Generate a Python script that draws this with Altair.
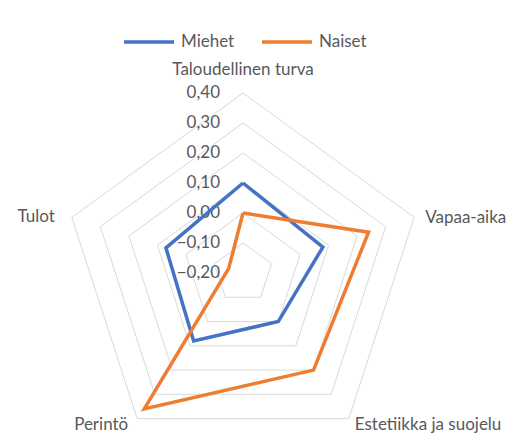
import altair as alt
import pandas as pd

categories = ["Taloudellinen turva", "Vapaa-aika", "Estetiikka ja suojelu", "Perintö", "Tulot"]
miehet = [0.10, 0.08, 0.00, 0.08, 0.07]
naiset = [0.00, 0.24, 0.20, 0.36, -0.15]
series = ["Miehet", "Naiset"]
colors = ["#4472C4", "#ED7D31"]
ticks = [-0.20, -0.10, 0.00, 0.10, 0.20, 0.30, 0.40]

rmin = ticks[0]
n = len(categories)
FONT = "Lato"
TXT = "#595959"
FS = 17

rows = []
for s, vals in zip(series, [miehet, naiset]):
    for i in range(n + 1):
        rows.append({"series": s, "idx": i, "cat": categories[i % n], "value": vals[i % n]})
df_series = pd.DataFrame(rows)

df_grid = pd.DataFrame([{"value": t, "idx": i} for t in ticks[1:] for i in range(n + 1)])
df_ticks = pd.DataFrame([{"value": t, "idx": 0} for t in ticks])
df_cats = pd.DataFrame([{"cat": c, "idx": i, "value": ticks[-1]} for i, c in enumerate(categories)])


def polar(ch):
    return ch.transform_calculate(
        ang=f"datum.idx * 2 * PI / {n}"
    ).transform_calculate(
        rr=f"datum.value - ({rmin})"
    ).transform_calculate(
        px="datum.rr * sin(datum.ang)",
        py="datum.rr * cos(datum.ang)",
    )


W, H = 511, 427
xs = alt.Scale(domain=[-235 / 300, (W - 235) / 300], nice=False, zero=False)
ys = alt.Scale(domain=[(265 - H) / 300, 265 / 300], nice=False, zero=False)
X = alt.X("px:Q", scale=xs, axis=None)
Y = alt.Y("py:Q", scale=ys, axis=None)

grid = polar(alt.Chart(df_grid)).mark_line(color="#D9D9D9", strokeWidth=1).encode(
    x=X, y=Y, detail="value:N", order="idx:Q"
)

tick_labels = polar(alt.Chart(df_ticks)).transform_calculate(
    lab="replace(format(datum.value, '.2f'), '.', ',')"
).mark_text(align="right", baseline="middle", dx=-23, font=FONT, fontSize=FS, color=TXT).encode(
    x=X, y=Y, text="lab:N"
)

lines = polar(alt.Chart(df_series)).mark_line(strokeWidth=3.5, strokeJoin="miter").encode(
    x=X, y=Y, order="idx:Q",
    color=alt.Color(
        "series:N",
        scale=alt.Scale(domain=series, range=colors),
        legend=alt.Legend(
            title=None, orient="none", legendX=114, legendY=7, direction="horizontal",
            symbolType="stroke", symbolSize=2500, symbolStrokeWidth=3.5,
            labelFont=FONT, labelFontSize=FS, labelColor=TXT, labelOffset=5,
            columnPadding=20, padding=0,
        ),
    ),
)

label_style = [
    ("center", 0, -23),
    ("left", 11, 1),
    ("left", 6, 6),
    ("right", -9, 6),
    ("right", -17, 0),
]
cat_layers = []
for i, (al, dx, dy) in enumerate(label_style):
    cat_layers.append(
        polar(alt.Chart(df_cats)).transform_filter(f"datum.idx == {i}").mark_text(
            align=al, baseline="middle", dx=dx, dy=dy, font=FONT, fontSize=FS, color=TXT
        ).encode(x=X, y=Y, text="cat:N")
    )

chart = alt.layer(grid, tick_labels, lines, *cat_layers).properties(
    width=W, height=H, padding=0, autosize=alt.AutoSizeParams(type="none")
).configure_view(stroke=None)

chart.save("out.html", embed_options={"renderer": "svg", "actions": False})
